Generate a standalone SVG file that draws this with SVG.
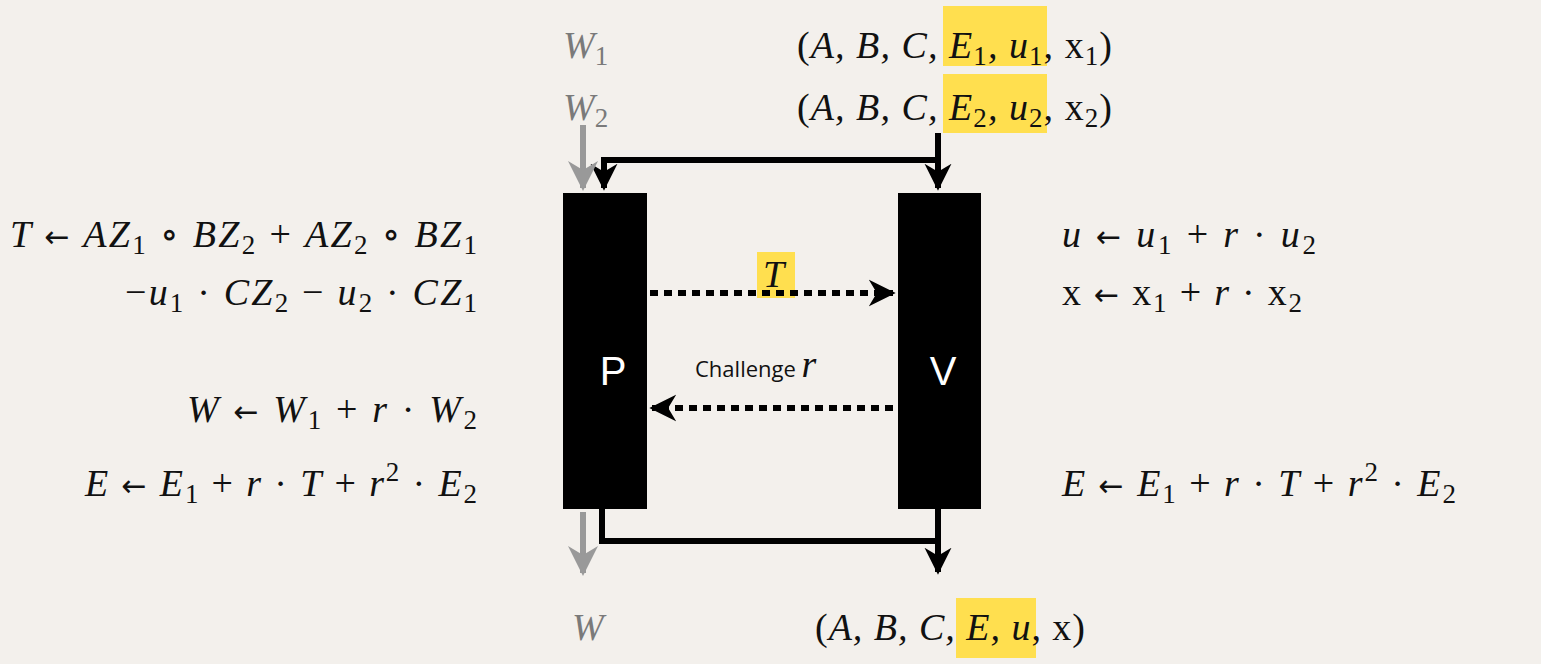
<svg xmlns="http://www.w3.org/2000/svg" width="1541" height="664" viewBox="0 0 1541 664">
<style>
.m{font-family:"Liberation Serif","DejaVu Serif",serif;font-size:38px;font-style:italic;fill:#111}
.u{font-style:normal}
.ar{font-family:"DejaVu Sans",sans-serif;font-style:normal;font-size:30px}
.g{fill:#7a7a7a}
.hl{fill:#ffdf4f}
.box{fill:#000}
.lbl{font-family:"Liberation Sans",Arial,sans-serif;font-size:40px;fill:#fff;text-anchor:middle}
.ln{fill:none;stroke:#000;stroke-width:6}
.dot{fill:none;stroke:#000;stroke-width:6;stroke-dasharray:8 6}
</style>
<defs>
<marker id="a" viewBox="0 0 10 10" refX="9" refY="5" markerWidth="4.5" markerHeight="5" orient="auto" markerUnits="strokeWidth"><path d="M0,0 L10,5 L0,10 L3,5 z" fill="#000"/></marker>
<marker id="ag" viewBox="0 0 10 10" refX="9" refY="5" markerWidth="5" markerHeight="5" orient="auto" markerUnits="strokeWidth"><path d="M0,0 L10,5 L0,10 L3,5 z" fill="#999"/></marker>
</defs>
<rect width="1541" height="664" fill="#f3f0ec"/>
<g id="highlights">
<rect class="hl" x="943" y="6" width="104" height="60"/>
<rect class="hl" x="943" y="74" width="104" height="59"/>
<rect class="hl" x="757" y="252" width="38" height="46"/>
<rect class="hl" x="956" y="598" width="80" height="60"/>
</g>
<g id="inputs">
<text class="m g" x="563" y="58">W<tspan font-size="27" dy="7" font-style="normal">1</tspan></text>
<text class="m g" x="563" y="120">W<tspan font-size="27" dy="7" font-style="normal">2</tspan></text>
<text class="m" x="797" y="58" textLength="315" lengthAdjust="spacing"><tspan class="u">(</tspan>A, B, C, E<tspan class="u" font-size="27" dy="7">1</tspan><tspan dy="-7">, u</tspan><tspan class="u" font-size="27" dy="7">1</tspan><tspan class="u" dy="-7">, x</tspan><tspan class="u" font-size="27" dy="7">1</tspan><tspan class="u" dy="-7">)</tspan></text>
<text class="m" x="797" y="120" textLength="315" lengthAdjust="spacing"><tspan class="u">(</tspan>A, B, C, E<tspan class="u" font-size="27" dy="7">2</tspan><tspan dy="-7">, u</tspan><tspan class="u" font-size="27" dy="7">2</tspan><tspan class="u" dy="-7">, x</tspan><tspan class="u" font-size="27" dy="7">2</tspan><tspan class="u" dy="-7">)</tspan></text>
</g>
<g id="P"><rect class="box" x="563" y="193" width="84" height="316"/><text class="lbl" x="613" y="385">P</text></g>
<g id="V"><rect class="box" x="898" y="193" width="83" height="316"/><text class="lbl" x="943" y="385">V</text></g>
<g id="connectors">
<path class="ln" d="M938,133 V188" marker-end="url(#a)"/>
<path class="ln" d="M941,160 H604 V188" marker-end="url(#a)"/>
<path d="M583,125 V188" fill="none" stroke="#999" stroke-width="6" marker-end="url(#ag)"/>
<path class="dot" d="M650,293 H893" marker-end="url(#a)"/>
<path class="dot" d="M893,408 H652" marker-end="url(#a)"/>
<path class="ln" d="M602,509 V541 H938 V572" marker-end="url(#a)"/>
<path class="ln" d="M938,509 V541"/>
<path d="M583,512 V573" fill="none" stroke="#999" stroke-width="6" marker-end="url(#ag)"/>
</g>
<g id="labels">
<text class="m" x="763" y="287" font-size="28">T</text>
<text x="695" y="377" font-family="Open Sans,Liberation Sans,sans-serif" font-size="22" fill="#111">Challenge <tspan class="m" font-size="32">r</tspan></text>
</g>
<g id="left" text-anchor="end">
<text class="m" x="477" y="247" textLength="467" lengthAdjust="spacing">T <tspan class="ar">←</tspan> AZ<tspan class="u" font-size="27" dy="7">1</tspan><tspan class="u" dy="-7"> ∘ </tspan>BZ<tspan class="u" font-size="27" dy="7">2</tspan><tspan class="u" dy="-7"> + </tspan>AZ<tspan class="u" font-size="27" dy="7">2</tspan><tspan class="u" dy="-7"> ∘ </tspan>BZ<tspan class="u" font-size="27" dy="7">1</tspan></text>
<text class="m" x="477" y="305" textLength="352" lengthAdjust="spacing"><tspan class="u">−</tspan>u<tspan class="u" font-size="27" dy="7">1</tspan><tspan class="u" dy="-7"> · </tspan>CZ<tspan class="u" font-size="27" dy="7">2</tspan><tspan class="u" dy="-7"> − </tspan>u<tspan class="u" font-size="27" dy="7">2</tspan><tspan class="u" dy="-7"> · </tspan>CZ<tspan class="u" font-size="27" dy="7">1</tspan></text>
<text class="m" x="477" y="422" textLength="290" lengthAdjust="spacing">W <tspan class="ar">←</tspan> W<tspan class="u" font-size="27" dy="7">1</tspan><tspan class="u" dy="-7"> + </tspan>r<tspan class="u"> · </tspan>W<tspan class="u" font-size="27" dy="7">2</tspan></text>
<text class="m" x="477" y="496" textLength="392" lengthAdjust="spacing">E <tspan class="ar">←</tspan> E<tspan class="u" font-size="27" dy="7">1</tspan><tspan class="u" dy="-7"> + </tspan>r<tspan class="u"> · </tspan>T<tspan class="u"> + </tspan>r<tspan class="u" font-size="27" dy="-15">2</tspan><tspan class="u" dy="15"> · </tspan>E<tspan class="u" font-size="27" dy="7">2</tspan></text>
</g>
<g id="right">
<text class="m" x="1062" y="247" textLength="254" lengthAdjust="spacing">u <tspan class="ar">←</tspan> u<tspan class="u" font-size="27" dy="7">1</tspan><tspan class="u" dy="-7"> + </tspan>r<tspan class="u"> · </tspan>u<tspan class="u" font-size="27" dy="7">2</tspan></text>
<text class="m" x="1062" y="305" textLength="240" lengthAdjust="spacing"><tspan class="u">x </tspan><tspan class="ar">←</tspan><tspan class="u"> x</tspan><tspan class="u" font-size="27" dy="7">1</tspan><tspan class="u" dy="-7"> + </tspan>r<tspan class="u"> · x</tspan><tspan class="u" font-size="27" dy="7">2</tspan></text>
<text class="m" x="1062" y="496" textLength="394" lengthAdjust="spacing">E <tspan class="ar">←</tspan> E<tspan class="u" font-size="27" dy="7">1</tspan><tspan class="u" dy="-7"> + </tspan>r<tspan class="u"> · </tspan>T<tspan class="u"> + </tspan>r<tspan class="u" font-size="27" dy="-15">2</tspan><tspan class="u" dy="15"> · </tspan>E<tspan class="u" font-size="27" dy="7">2</tspan></text>
</g>
<g id="outputs">
<text class="m g" x="572" y="640">W</text>
<text class="m" x="815" y="640" textLength="270" lengthAdjust="spacing"><tspan class="u">(</tspan>A, B, C, E, u<tspan class="u">, x)</tspan></text>
</g>
</svg>
